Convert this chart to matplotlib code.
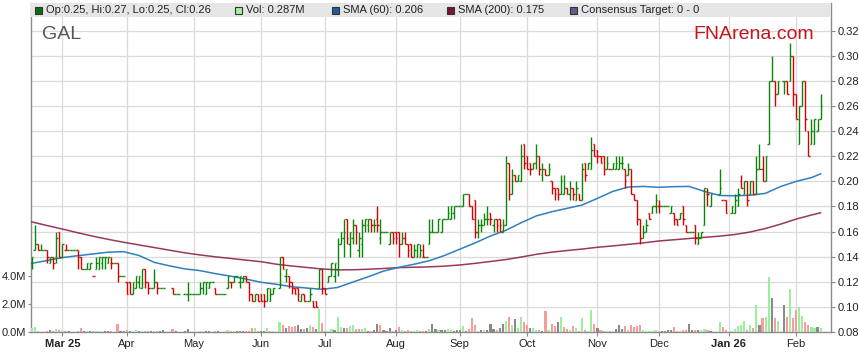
import numpy as np
import pandas as pd
import matplotlib
matplotlib.use("Agg")
import matplotlib.pyplot as plt
from matplotlib.collections import LineCollection
from matplotlib.patches import Rectangle

plt.rcParams['font.family'] = ['Liberation Sans', 'DejaVu Sans']

# ---------------- data ----------------
start_date = '2025-02-17'
end_date = '2026-02-12'
holidays = ['2025-04-18', '2025-04-21', '2025-04-25', '2025-06-09',
            '2025-12-25', '2025-12-26', '2026-01-01', '2026-01-26']

# (open, high, low, close) per weekday, None = no trading
feb25 = [(0.135,0.14,0.13,0.14),(0.145,0.165,0.145,0.15),(0.15,0.15,0.145,0.145),(0.145,0.15,0.145,0.145),
         (0.145,0.145,0.145,0.145),(0.145,0.145,0.135,0.14),(0.135,0.14,0.135,0.14),(0.14,0.14,0.13,0.135),
         (0.14,0.16,0.135,0.155),(0.16,0.16,0.14,0.14)]
mar25 = [(0.14,0.15,0.14,0.15),(0.145,0.15,0.145,0.145),(0.145,0.145,0.145,0.145),(0.145,0.145,0.145,0.145),
         (0.145,0.145,0.145,0.145),(0.145,0.145,0.13,0.14),(0.14,0.14,0.13,0.13),(0.13,0.13,0.13,0.13),
         (0.13,0.135,0.13,0.135),(0.13,0.135,0.13,0.135),(0.125,0.125,0.125,0.125),(0.13,0.14,0.13,0.135),
         (0.13,0.14,0.13,0.14),(0.135,0.14,0.13,0.14),(0.14,0.14,0.13,0.14),(0.135,0.14,0.135,0.14),
         (0.135,0.14,0.13,0.135),(0.135,0.135,0.135,0.135),(0.135,0.135,0.12,0.125),(0.125,0.125,0.125,0.125),
         (0.125,0.125,0.125,0.125)]
apr25 = [(0.12,0.12,0.11,0.11),(0.12,0.12,0.11,0.11),(0.11,0.12,0.11,0.12),(0.115,0.125,0.115,0.125),
         (0.12,0.125,0.115,0.125),(0.115,0.13,0.115,0.13),(0.13,0.13,0.115,0.12),(0.12,0.12,0.11,0.115),
         (0.115,0.115,0.115,0.115),(0.115,0.13,0.115,0.12),(0.12,0.12,0.11,0.115),(0.115,0.115,0.115,0.115),
         (0.115,0.115,0.115,0.115),None,None,(0.115,0.115,0.11,0.11),(0.11,0.11,0.11,0.11),
         (0.11,0.11,0.11,0.11),None,(0.11,0.11,0.11,0.11),(0.11,0.12,0.105,0.11),(0.11,0.11,0.11,0.11)]
may25 = [(0.11,0.11,0.11,0.11),(0.11,0.11,0.11,0.11),(0.11,0.12,0.11,0.115),(0.115,0.12,0.11,0.12),
         (0.11,0.12,0.11,0.12),(0.115,0.12,0.115,0.12),(0.12,0.12,0.12,0.12),(0.115,0.115,0.11,0.11),
         (0.11,0.11,0.11,0.11),(0.11,0.11,0.11,0.11),(0.11,0.11,0.11,0.11),(0.115,0.125,0.115,0.125),
         (0.12,0.12,0.115,0.12),(0.12,0.125,0.12,0.125),(0.125,0.125,0.125,0.125),(0.12,0.125,0.115,0.125),
         (0.12,0.125,0.12,0.125),(0.125,0.125,0.12,0.12),(0.12,0.12,0.105,0.11),(0.11,0.11,0.105,0.105),
         (0.105,0.11,0.105,0.11),(0.11,0.11,0.105,0.105)]
jun25 = [(0.11,0.11,0.105,0.105),(0.11,0.11,0.10,0.105),(0.105,0.115,0.105,0.115),(0.105,0.115,0.105,0.11),
         (0.11,0.115,0.11,0.115),None,(0.115,0.14,0.115,0.14),(0.14,0.14,0.13,0.13),
         (0.125,0.13,0.12,0.13),(0.125,0.125,0.115,0.12),(0.12,0.12,0.11,0.115),(0.115,0.115,0.11,0.11),
         (0.115,0.115,0.105,0.11),(0.105,0.11,0.105,0.11),(0.11,0.11,0.105,0.105),(0.105,0.105,0.105,0.105),
         (0.105,0.115,0.105,0.11),(0.105,0.105,0.10,0.10),(0.105,0.105,0.10,0.10),(0.115,0.13,0.115,0.13),
         (0.13,0.13,0.11,0.115)]
jul25 = [(0.115,0.115,0.11,0.11),(0.12,0.125,0.12,0.125),(0.125,0.135,0.125,0.135),(0.125,0.135,0.12,0.135),
         (0.13,0.155,0.125,0.15),(0.15,0.16,0.15,0.16),(0.155,0.17,0.14,0.16),(0.17,0.17,0.15,0.155),
         (0.15,0.16,0.14,0.16),(0.155,0.17,0.15,0.165),(0.165,0.165,0.15,0.16),(0.145,0.16,0.14,0.155),
         (0.15,0.17,0.14,0.165),(0.165,0.17,0.16,0.17),(0.165,0.17,0.16,0.17),(0.17,0.17,0.16,0.165),
         (0.165,0.17,0.16,0.165),(0.17,0.18,0.16,0.165),(0.155,0.17,0.15,0.16),(0.16,0.16,0.16,0.16),
         (0.16,0.16,0.16,0.16),(0.15,0.16,0.15,0.16),(0.16,0.16,0.15,0.155)]
aug25 = [(0.16,0.16,0.15,0.155),(0.16,0.16,0.14,0.15),(0.15,0.16,0.15,0.155),(0.155,0.16,0.15,0.15),
         (0.15,0.15,0.14,0.145),(0.15,0.15,0.14,0.14),(0.14,0.15,0.14,0.145),(0.14,0.15,0.14,0.15),
         (0.14,0.15,0.14,0.145),(0.14,0.15,0.14,0.14),(0.14,0.14,0.14,0.14),(0.15,0.17,0.15,0.16),
         (0.16,0.17,0.16,0.16),(0.16,0.16,0.16,0.16),(0.16,0.17,0.16,0.17),(0.16,0.17,0.16,0.17),
         (0.17,0.17,0.17,0.17),(0.17,0.18,0.17,0.175),(0.17,0.18,0.17,0.18),(0.175,0.18,0.17,0.18),
         (0.18,0.18,0.18,0.18)]
sep25 = [(0.18,0.18,0.18,0.18),(0.18,0.19,0.18,0.19),(0.19,0.19,0.19,0.19),(0.19,0.19,0.18,0.18),
         (0.18,0.18,0.17,0.17),(0.185,0.185,0.155,0.16),(0.16,0.17,0.155,0.165),(0.165,0.17,0.16,0.165),
         (0.165,0.175,0.165,0.17),(0.17,0.18,0.165,0.17),(0.175,0.175,0.165,0.17),(0.165,0.17,0.16,0.17),
         (0.17,0.17,0.16,0.165),(0.17,0.17,0.16,0.165),(0.16,0.17,0.16,0.165),(0.165,0.22,0.165,0.215),
         (0.215,0.215,0.185,0.19),(0.19,0.21,0.19,0.20),(0.205,0.205,0.20,0.20),(0.20,0.205,0.20,0.205),
         (0.20,0.23,0.20,0.22),(0.23,0.23,0.21,0.215)]
oct25 = [(0.22,0.22,0.21,0.21),(0.215,0.215,0.205,0.21),(0.21,0.215,0.21,0.215),(0.215,0.23,0.21,0.22),
         (0.22,0.22,0.205,0.21),(0.205,0.215,0.20,0.21),(0.21,0.21,0.205,0.205),(0.205,0.215,0.205,0.21),
         (0.20,0.20,0.19,0.195),(0.195,0.195,0.185,0.19),(0.195,0.195,0.185,0.19),(0.19,0.205,0.19,0.20),
         (0.19,0.205,0.19,0.195),(0.195,0.195,0.19,0.19),(0.19,0.20,0.185,0.195),(0.195,0.195,0.185,0.19),
         (0.185,0.20,0.185,0.195),(0.19,0.19,0.185,0.185),(0.185,0.215,0.185,0.21),(0.215,0.215,0.20,0.205),
         (0.21,0.215,0.21,0.215),(0.21,0.235,0.21,0.225),(0.23,0.23,0.22,0.22)]
nov25 = [(0.225,0.225,0.215,0.22),(0.22,0.22,0.215,0.215),(0.22,0.22,0.205,0.21),(0.21,0.22,0.21,0.215),
         (0.21,0.21,0.21,0.21),(0.21,0.215,0.21,0.215),(0.21,0.22,0.21,0.215),(0.21,0.22,0.21,0.215),
         (0.215,0.22,0.21,0.215),(0.21,0.21,0.195,0.20),(0.205,0.215,0.205,0.21),(0.21,0.21,0.19,0.19),
         (0.19,0.19,0.185,0.185),(0.185,0.185,0.165,0.17),(0.17,0.17,0.15,0.155),(0.155,0.165,0.155,0.16),
         (0.16,0.17,0.16,0.165),(0.175,0.175,0.17,0.17),(0.175,0.18,0.175,0.18),(0.18,0.19,0.175,0.185)]
dec25 = [(0.18,0.185,0.175,0.18),(0.18,0.18,0.18,0.18),(0.18,0.18,0.18,0.18),(0.18,0.18,0.18,0.18),
         (0.175,0.18,0.175,0.18),(0.175,0.175,0.165,0.17),(0.17,0.17,0.165,0.165),(0.17,0.175,0.17,0.175),
         (0.18,0.18,0.165,0.17),(0.165,0.165,0.16,0.16),(0.16,0.16,0.16,0.16),(0.16,0.16,0.16,0.16),
         (0.165,0.165,0.15,0.155),(0.15,0.16,0.15,0.155),(0.155,0.16,0.155,0.16),(0.165,0.195,0.165,0.195),
         (0.19,0.195,0.18,0.19),(0.18,0.19,0.18,0.19),None,None,
         (0.19,0.21,0.19,0.195),(0.185,0.185,0.185,0.185),(0.185,0.185,0.175,0.175)]
jan26 = [None,(0.175,0.18,0.175,0.18),(0.175,0.19,0.175,0.185),(0.18,0.195,0.18,0.19),
         (0.20,0.205,0.195,0.195),(0.19,0.20,0.19,0.20),(0.20,0.20,0.18,0.185),(0.19,0.20,0.19,0.20),
         (0.20,0.20,0.19,0.19),(0.19,0.22,0.19,0.21),(0.21,0.23,0.21,0.21),(0.21,0.22,0.20,0.20),
         (0.20,0.22,0.20,0.22),(0.23,0.28,0.23,0.28),(0.28,0.30,0.28,0.28),(0.28,0.28,0.26,0.27),
         (0.27,0.28,0.27,0.28),None,(0.28,0.28,0.27,0.28),(0.28,0.28,0.27,0.27),
         (0.28,0.31,0.28,0.30),(0.30,0.30,0.26,0.27)]
feb26 = [(0.27,0.27,0.25,0.25),(0.23,0.26,0.23,0.26),(0.26,0.28,0.26,0.28),(0.28,0.28,0.24,0.25),
         (0.24,0.24,0.22,0.22),(0.23,0.25,0.23,0.24),(0.23,0.25,0.23,0.25),(0.24,0.25,0.24,0.25),
         (0.25,0.27,0.25,0.26)]

# volume in millions
vol_feb25 = [0.26,0.38,0.05,0.03,0.03,0.10,0.14,0.08,0.19,0.12]
vol_mar25 = [0.10,0.05,0.07,0.03,0.02,0.08,0.31,0.09,0.05,0.04,0.06,0.08,0.05,0.03,0.04,0.05,0.05,0.03,0.57,0.10,0.05]
vol_apr25 = [0.14,0.08,0.10,0.14,0.05,0.06,0.10,0.08,0.04,0.06,0.05,0.04,0.14,None,None,0.20,0.05,0.03,None,0.04,0.20,0.03]
vol_may25 = [0.03,0.02,0.05,0.08,0.04,0.05,0.03,0.06,0.04,0.03,0.02,0.12,0.06,0.05,0.08,0.05,0.10,0.06,0.10,0.29,0.31,0.06]
vol_jun25 = [0.06,0.10,0.29,0.10,0.05,None,0.71,0.50,0.31,0.43,0.33,0.40,0.48,0.23,0.21,0.26,0.48,0.33,0.20,1.67,0.64]
vol_jul25 = [0.10,0.05,0.24,0.12,1.05,0.36,0.29,0.29,0.45,0.48,0.24,0.24,0.24,0.29,0.10,0.08,0.12,0.60,0.48,0.17,0.10,0.29,0.08]
vol_aug25 = [0.17,0.33,0.14,0.10,0.12,0.10,0.08,0.12,0.10,0.08,0.10,0.20,0.60,0.24,0.12,0.17,0.14,0.24,0.12,0.10,0.17]
vol_sep25 = [0.12,0.40,0.10,0.21,1.00,0.48,0.10,0.17,0.14,0.12,0.60,0.24,0.17,0.29,0.57,0.80,1.05,0.48,0.93,0.29,1.05,0.70]
vol_oct25 = [0.48,0.29,0.29,0.17,0.12,0.10,1.50,0.14,0.57,0.40,0.70,1.05,0.33,0.24,0.17,0.40,0.29,0.10,1.00,0.17,0.10,1.60,0.60]
vol_nov25 = [0.26,0.17,0.10,0.07,0.05,0.05,0.24,0.52,0.24,0.40,0.12,0.48,0.36,0.45,0.52,0.12,0.07,0.05,0.05,0.17]
vol_dec25 = [0.05,0.07,0.05,0.12,0.17,0.33,0.05,0.10,0.12,0.12,0.60,0.17,0.17,0.12,0.17,0.21,0.12,0.05,None,None,0.69,0.33,0.17]
vol_jan26 = [None,0.07,0.21,0.40,0.52,0.76,0.17,0.52,0.30,1.90,0.52,1.00,1.05,3.90,2.40,1.00,0.76,None,1.95,1.10,3.10,1.00]
vol_feb26 = [1.60,1.80,1.15,0.70,0.48,0.33,0.26,0.33,0.287]

# moving averages sampled every 5th weekday (and the last one)
sma60 = [0.1347,0.1370,0.1393,0.1408,0.1422,0.1436,0.1440,0.1410,0.1355,0.1327,
         0.1303,0.1289,0.1265,0.1245,0.1222,0.1196,0.1180,0.1161,0.1150,0.1140,
         0.1155,0.1198,0.1240,0.1285,0.1315,0.1340,0.1368,0.1410,0.1460,0.1510,
         0.1565,0.1610,0.1670,0.1725,0.1758,0.1785,0.1812,0.1865,0.1920,0.1955,
         0.1960,0.1953,0.1958,0.1960,0.1920,0.1888,0.1885,0.1890,0.1905,0.1960,
         0.2000,0.2030,0.2060]
sma200 = [0.1677,0.1648,0.1620,0.1591,0.1563,0.1538,0.1515,0.1494,0.1473,0.1452,
          0.1431,0.1414,0.1399,0.1386,0.1373,0.1360,0.1340,0.1326,0.1314,0.1302,
          0.1295,0.1296,0.1300,0.1306,0.1313,0.1316,0.1319,0.1325,0.1334,0.1347,
          0.1362,0.1377,0.1397,0.1419,0.1436,0.1449,0.1461,0.1475,0.1486,0.1498,
          0.1510,0.1525,0.1535,0.1545,0.1554,0.1564,0.1577,0.1597,0.1625,0.1660,
          0.1700,0.1732,0.1750]

month_labels = ['Mar 25', 'Apr', 'May', 'Jun', 'Jul', 'Aug', 'Sep', 'Oct', 'Nov', 'Dec', 'Jan 26', 'Feb']
bold_labels = ['Mar 25', 'Jan 26']
price_ticks = [0.08, 0.10, 0.12, 0.14, 0.16, 0.18, 0.20, 0.22, 0.24, 0.26, 0.28, 0.30, 0.32]
vol_ticks = [0, 2, 4]

legend_items = [('Op:0.25, Hi:0.27, Lo:0.25, Cl:0.26', '#0b6e0b'),
                ('Vol: 0.287M', '#a6f0a6'),
                ('SMA (60): 0.206', '#1f5f99'),
                ('SMA (200): 0.175', '#7c1232'),
                ('Consensus Target: 0 - 0', '#5e5e8c')]

# ---------------- build ----------------
bars = feb25 + mar25 + apr25 + may25 + jun25 + jul25 + aug25 + sep25 + oct25 + nov25 + dec25 + jan26 + feb26
vols = (vol_feb25 + vol_mar25 + vol_apr25 + vol_may25 + vol_jun25 + vol_jul25 + vol_aug25 +
        vol_sep25 + vol_oct25 + vol_nov25 + vol_dec25 + vol_jan26 + vol_feb26)
dates = pd.bdate_range(start_date, end_date)
n = len(bars)
assert len(dates) == n and len(vols) == n, (len(dates), n, len(vols))

W, H = 859, 363
fig = plt.figure(figsize=(W / 100, H / 100), dpi=100)
L, R, T, B = 31, 831, 3, 332
rect = [L / W, 1 - B / H, (R - L) / W, (B - T) / H]
ax_p = fig.add_axes(rect)
ax_v = fig.add_axes(rect)
ax_v.set_facecolor('none')

x_lo, x_hi = -0.3, 261.4
ax_p.set_xlim(x_lo, x_hi)
ax_v.set_xlim(x_lo, x_hi)
ax_p.set_ylim(0.08, 0.08 + (B - T) / 1255.0)
ax_v.set_ylim(0, (B - T) / 14.0)

GREEN, RED = '#0a850a', '#d80000'
tw = 0.5
segs = {True: [], False: []}
prev_c = None
for i, b in enumerate(bars):
    if b is None:
        continue
    o, h, l, c = b
    if c > o:
        up = True
    elif c < o:
        up = False
    else:
        up = prev_c is None or c >= prev_c
    s = segs[up]
    if h > l:
        s.append([(i, l), (i, h)])
    s.append([(i - tw, o), (i, o)])
    s.append([(i, c), (i + tw, c)])
    prev_c = c
ax_p.add_collection(LineCollection(segs[True], colors=GREEN, linewidths=1.0, zorder=4, capstyle='butt'))
ax_p.add_collection(LineCollection(segs[False], colors=RED, linewidths=1.0, zorder=4, capstyle='butt'))

# SMA lines
sma_idx = list(range(0, n, 5))
if sma_idx[-1] != n - 1:
    sma_idx.append(n - 1)
ax_p.plot(sma_idx, sma200, color='#8e2447', lw=1.1, zorder=3, alpha=0.9)
ax_p.plot(sma_idx, sma60, color='#2f80bf', lw=1.1, zorder=3)

# volume bars
vx, vh, vc = [], [], []
prev_c = None
for i, (b, v) in enumerate(zip(bars, vols)):
    if b is None or v is None:
        continue
    c = b[3]
    if prev_c is None or c > prev_c:
        col = '#9bef9b'
    elif c < prev_c:
        col = '#f59d9d'
    else:
        col = '#8a8a8a'
    vx.append(i); vh.append(v); vc.append(col)
    prev_c = c
ax_v.bar(vx, vh, width=0.7, color=vc, linewidth=0, zorder=2)

# month ticks
month_pos = []
prev_m = dates[0].month
for i, d in enumerate(dates):
    if d.month != prev_m:
        month_pos.append(i)
        prev_m = d.month
ax_p.set_xticks(month_pos)
ax_p.set_xticklabels(month_labels[:len(month_pos)])
for t in ax_p.get_xticklabels():
    if t.get_text() in bold_labels:
        t.set_fontweight('bold')

ax_p.yaxis.tick_right()
ax_p.set_yticks(price_ticks)
ax_p.set_yticklabels(['%.2f' % v for v in price_ticks])
ax_p.grid(True, color='#dadada', linewidth=0.9)
ax_p.set_axisbelow(True)
ax_p.tick_params(axis='y', which='both', length=3, width=0.8, pad=1.5, labelsize=8,
                 colors='#888888', labelcolor='#222222')
ax_p.tick_params(axis='x', length=3, width=0.8, pad=2, labelsize=8, colors='#888888', labelcolor='#222222')

ax_v.set_yticks(vol_ticks)
ax_v.set_yticklabels(['%.1fM' % v for v in vol_ticks])
ax_v.tick_params(axis='y', length=2, width=0.8, pad=1.5, labelsize=8, colors='#888888', labelcolor='#222222')
ax_v.tick_params(axis='x', bottom=False, labelbottom=False)
for sp in ax_v.spines.values():
    sp.set_visible(False)

ax_p.spines['top'].set_visible(False)
for k in ['left', 'right', 'bottom']:
    ax_p.spines[k].set_color('#8a8a8a')
    ax_p.spines[k].set_linewidth(1.0)


def fx(px):
    return px / W


def fy(py):
    return 1 - py / H


# legend band
fig.add_artist(Rectangle((fx(L), fy(17)), fx(R - L), 14 / H, transform=fig.transFigure,
                         facecolor='#e6e6e6', edgecolor='none', zorder=10))
sq_x = [35, 235, 332, 447, 570]
for (label, col), sx in zip(legend_items, sq_x):
    fig.add_artist(Rectangle((fx(sx), fy(13.5)), 7 / W, 7 / H, transform=fig.transFigure,
                             facecolor=col, edgecolor='#333333', linewidth=0.8, zorder=11))
    fig.text(fx(sx + 11), fy(10.2), label, fontsize=8, color='#222222', va='center', ha='left', zorder=12)

fig.text(fx(42), fy(39), 'GAL', fontsize=14, color='#555555', va='baseline', ha='left', zorder=12)
fig.text(fx(693), fy(39), 'FNArena.com', fontsize=14, color='#c4161c', va='baseline', ha='left', zorder=12)

fig.savefig('out.png', dpi=100)
